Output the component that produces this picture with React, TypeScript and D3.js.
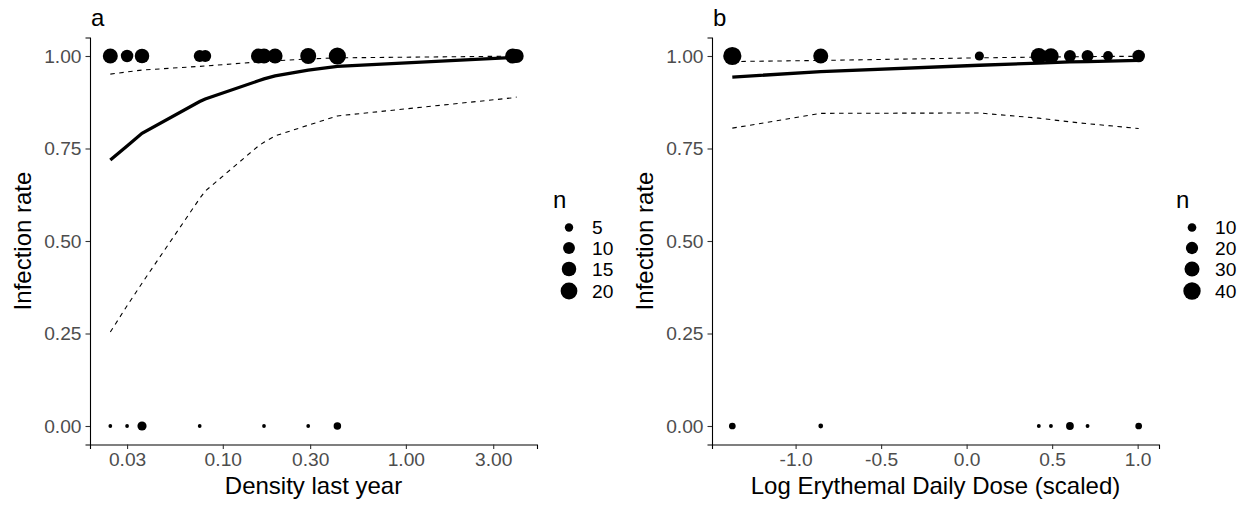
import React, { useEffect, useRef } from 'react'
import * as d3 from 'd3'

const [WIDTH, HEIGHT] = [1247, 505]
const FONT = '"Liberation Sans", Arial, Helvetica, sans-serif'

// panel a: density last year (log scale), one site per entry
const densityA = [0.0243, 0.03, 0.0362, 0.0748, 0.0802, 0.1566, 0.1679, 0.193, 0.2928, 0.4225, 3.83, 4.03]
const infectedA = [16, 11, 15, 10, 10, 16, 16, 16, 18, 21, 16, 14]
const uninfectedA = [1, 1, 6, 1, 0, 0, 1, 0, 1, 4, 0, 0]
const fitA = [0.719, 0.757, 0.791, 0.877, 0.884, 0.933, 0.938, 0.946, 0.962, 0.972, 0.996, 0.996]
const lowerA = [0.254, 0.325, 0.386, 0.615, 0.635, 0.757, 0.767, 0.784, 0.813, 0.838, 0.887, 0.889]
const upperA = [0.951, 0.957, 0.962, 0.972, 0.973, 0.984, 0.985, 0.987, 0.992, 0.995, 0.9995, 0.9996]
const xTicksA = [0.03, 0.1, 0.3, 1, 3]
const sizeBreaksA = [5, 10, 15, 20]

// panel b: log erythemal daily dose (scaled)
const doseB = [-1.37, -0.853, 0.0745, 0.422, 0.493, 0.604, 0.707, 0.827, 1.006]
const infectedB = [44, 30, 11, 34, 32, 19, 19, 13, 21]
const uninfectedB = [6, 3, 0, 2, 2, 8, 2, 0, 6]
const fitB = [0.943, 0.958, 0.975, 0.981, 0.982, 0.984, 0.985, 0.986, 0.988]
const lowerB = [0.805, 0.845, 0.846, 0.832, 0.828, 0.822, 0.817, 0.812, 0.804]
const upperB = [0.985, 0.988, 0.995, 0.997, 0.997, 0.998, 0.998, 0.999, 0.999]
const xTicksB = [-1, -0.5, 0, 0.5, 1]
const sizeBreaksB = [10, 20, 30, 40]

const yTicks = [0, 0.25, 0.5, 0.75, 1]

const panelTop = 37.5
const panelBottom = 444.5

// R prints a plain hyphen for negatives
const fmt = spec => {
  const f = d3.format(spec)
  return v => f(v).replace('\u2212', '-')
}

function drawPanel(svg, opts) {
  const { xs, infected, uninfected, fit, lower, upper, xTicks, xFormat, sizeBreaks, left, right, log, tag, xTitle, nMax, legendX } = opts
  const g = svg.append('g')

  let x
  if (log) {
    const [lo, hi] = d3.extent(xs).map(Math.log10)
    const pad = (hi - lo) * 0.05
    x = d3.scaleLog().domain([Math.pow(10, lo - pad), Math.pow(10, hi + pad)]).range([left, right])
  } else {
    const [lo, hi] = d3.extent(xs)
    const pad = (hi - lo) * 0.05
    x = d3.scaleLinear().domain([lo - pad, hi + pad]).range([left, right])
  }
  const y = d3.scaleLinear().domain([-0.05, 1.05]).range([panelBottom, panelTop])
  const r = d3.scaleSqrt().domain([0, nMax]).range([0, 9])

  // points: infected at 1, uninfected at 0
  const pts = []
  xs.forEach((v, i) => {
    if (infected[i] > 0) pts.push([v, 1, infected[i]])
    if (uninfected[i] > 0) pts.push([v, 0, uninfected[i]])
  })
  g.selectAll('circle.pt').data(pts).join('circle')
    .attr('class', 'pt')
    .attr('cx', d => x(d[0]))
    .attr('cy', d => y(d[1]))
    .attr('r', d => r(d[2]))
    .attr('fill', 'black')

  const line = d3.line().x(d => x(d[0])).y(d => y(d[1]))
  const path = vals => line(xs.map((v, i) => [v, vals[i]]))
  g.append('path').attr('d', path(lower)).attr('fill', 'none').attr('stroke', 'black')
    .attr('stroke-width', 1.1).attr('stroke-dasharray', '4.5,4.5')
  g.append('path').attr('d', path(upper)).attr('fill', 'none').attr('stroke', 'black')
    .attr('stroke-width', 1.1).attr('stroke-dasharray', '4.5,4.5')
  g.append('path').attr('d', path(fit)).attr('fill', 'none').attr('stroke', 'black')
    .attr('stroke-width', 3.3)

  // axes
  const xAxis = d3.axisBottom(x).tickValues(xTicks).tickFormat(xFormat).tickSizeOuter(0).tickSize(4.5).tickPadding(3)
  const yAxis = d3.axisLeft(y).tickValues(yTicks).tickFormat(fmt('.2f')).tickSizeOuter(0).tickSize(4.5).tickPadding(4)
  const xg = g.append('g').attr('transform', `translate(0,${panelBottom})`).call(xAxis)
  const yg = g.append('g').attr('transform', `translate(${left},0)`).call(yAxis)
  for (const ax of [xg, yg]) {
    ax.select('.domain').attr('stroke', 'black').attr('stroke-width', 1.1)
    ax.selectAll('.tick line').attr('stroke', '#333333').attr('stroke-width', 1.1)
    ax.selectAll('.tick text').attr('fill', '#4D4D4D').style('font-size', '19.2px').style('font-family', FONT)
  }

  // titles
  g.append('text').attr('x', left + 1).attr('y', 26).text(tag)
    .style('font-size', '24px').style('font-family', FONT)
  g.append('text').attr('x', (left + right) / 2).attr('y', 494).attr('text-anchor', 'middle').text(xTitle)
    .style('font-size', '24px').style('font-family', FONT)
  g.append('text').attr('transform', `translate(${left - 59},${(panelTop + panelBottom) / 2}) rotate(-90)`)
    .attr('text-anchor', 'middle').text('Infection rate')
    .style('font-size', '24px').style('font-family', FONT)

  // size legend
  const legendYs = [227.5, 248, 269, 291]
  g.append('text').attr('x', legendX - 16).attr('y', 208).text('n')
    .style('font-size', '24px').style('font-family', FONT)
  sizeBreaks.forEach((b, i) => {
    g.append('circle').attr('cx', legendX).attr('cy', legendYs[i]).attr('r', r(b)).attr('fill', 'black')
    g.append('text').attr('x', legendX + 23).attr('y', legendYs[i]).attr('dy', '0.35em').text(b)
      .style('font-size', '19.2px').style('font-family', FONT)
  })
}

export default function App() {
  const ref = useRef(null)

  useEffect(() => {
    const svg = d3.select(ref.current)
    svg.selectAll('*').remove()
    drawPanel(svg, {
      xs: densityA, infected: infectedA, uninfected: uninfectedA,
      fit: fitA, lower: lowerA, upper: upperA,
      xTicks: xTicksA, xFormat: fmt('.2f'), sizeBreaks: sizeBreaksA,
      left: 90, right: 537, log: true, tag: 'a', xTitle: 'Density last year', nMax: 23, legendX: 569,
    })
    drawPanel(svg, {
      xs: doseB, infected: infectedB, uninfected: uninfectedB,
      fit: fitB, lower: lowerB, upper: upperB,
      xTicks: xTicksB, xFormat: fmt('.1f'), sizeBreaks: sizeBreaksB,
      left: 712, right: 1159, log: false, tag: 'b', xTitle: 'Log Erythemal Daily Dose (scaled)', nMax: 43, legendX: 1192,
    })
  }, [])

  return (
    <svg ref={ref} width={WIDTH} height={HEIGHT}
      style={{ position: 'absolute', left: 0, top: 0, background: 'white' }} />
  )
}
